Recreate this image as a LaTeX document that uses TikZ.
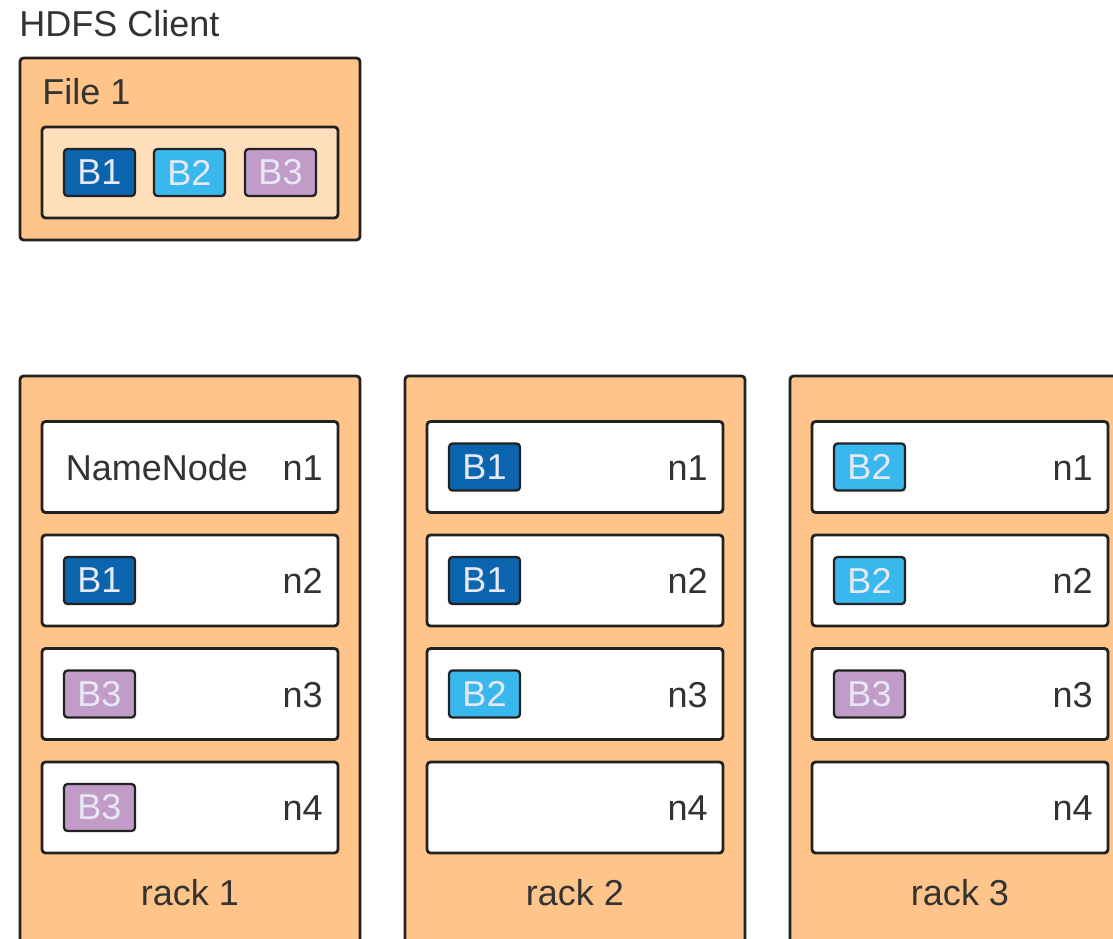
\documentclass[tikz,border=0pt]{standalone}
\usepackage{fontspec}
\setmainfont{Liberation Sans}
\usetikzlibrary{calc,positioning}
\definecolor{rackOrange}{HTML}{FFC489}
\definecolor{fileTan}{HTML}{FFDEBB}
\definecolor{blkDark}{HTML}{0A64AE}
\definecolor{blkLight}{HTML}{38B8EC}
\definecolor{blkPurple}{HTML}{C29CC8}
\definecolor{edgeGray}{HTML}{222222}
\definecolor{txtGray}{HTML}{333333}
\definecolor{blkTxt}{HTML}{E8E8F4}
\tikzset{
	box/.style={draw=edgeGray,line width=1.6pt,rounded corners=2pt,inner sep=0pt,outer sep=0pt},
	rackbox/.style={box,fill=rackOrange,minimum width=6.8cm,minimum height=12cm,anchor=north west},
	hostbox/.style={box,fill=white,minimum width=5.92cm,minimum height=1.82cm,anchor=north west},
	blk/.style={box,line width=1.3pt,minimum width=1.42cm,minimum height=0.94cm,anchor=west,text=blkTxt,font=\fontsize{20.5}{24}\selectfont},
	lbl/.style={inner sep=0pt,text=txtGray,font=\fontsize{20.5}{24}\selectfont},
}

\begin{document}
\begin{tikzpicture}
	\clip (0,0) rectangle (22.26,-18.76);
	\fill[white] (0,0) rectangle (22.26,-18.76);
	% client side
	\node (client) at (0.38,-0.73) [lbl,anchor=base west] {HDFS Client};
	\node (file) at (0.4,-1.16) [box,fill=rackOrange,minimum width=6.8cm,minimum height=3.64cm,anchor=north west]{};
	\node (filename) at ($(file.north west)+(0.44,-0.92)$) [lbl,anchor=base west] {File 1};
	\node (blocks) at ($(file.north west)+(0.44,-1.38)$) [box,fill=fileTan,minimum width=5.92cm,minimum height=1.82cm,anchor=north west]{};
	\node (fB1) at ($(blocks.west)+(0.44,0)$) [blk,fill=blkDark]{B1};
	\node (fB2) at ($(fB1.east)+(0.38,0)$) [blk,fill=blkLight]{B2};
	\node (fB3) at ($(fB2.east)+(0.40,0)$) [blk,fill=blkPurple]{B3};
	
	% racks
	\foreach \r/\x in {1/0.4,2/8.1,3/15.8}{
		\node (rack\r) at (\x,-7.52) [rackbox]{};
		\node (r\r-n1) at ($(rack\r.north west)+(0.44,-0.91)$) [hostbox]{};
		\node (r\r-n2) at ($(r\r-n1.south west)+(0,-0.45)$) [hostbox]{};
		\node (r\r-n3) at ($(r\r-n2.south west)+(0,-0.45)$) [hostbox]{};
		\node (r\r-n4) at ($(r\r-n3.south west)+(0,-0.45)$) [hostbox]{};
		\foreach \n in {1,...,4}
			\node (r\r-l\n) at ($(r\r-n\n.east)+(-0.3,-0.26)$) [lbl,anchor=base east]{n\n};
		\node (rack\r-name) at ($(rack\r.north)+(0,-10.59)$) [lbl,anchor=base]{rack \r};
	}
	
	% blocks on the hosts
	\node (nn) at ($(r1-n1.west)+(0.47,-0.26)$) [lbl,anchor=base west]{NameNode};
	\node (r1-b2) at ($(r1-n2.west)+(0.44,0)$) [blk,fill=blkDark]{B1};
	\node (r1-b3) at ($(r1-n3.west)+(0.44,0)$) [blk,fill=blkPurple]{B3};
	\node (r1-b4) at ($(r1-n4.west)+(0.44,0)$) [blk,fill=blkPurple]{B3};
	\node (r2-b1) at ($(r2-n1.west)+(0.44,0)$) [blk,fill=blkDark]{B1};
	\node (r2-b2) at ($(r2-n2.west)+(0.44,0)$) [blk,fill=blkDark]{B1};
	\node (r2-b3) at ($(r2-n3.west)+(0.44,0)$) [blk,fill=blkLight]{B2};
	\node (r3-b1) at ($(r3-n1.west)+(0.44,0)$) [blk,fill=blkLight]{B2};
	\node (r3-b2) at ($(r3-n2.west)+(0.44,0)$) [blk,fill=blkLight]{B2};
	\node (r3-b3) at ($(r3-n3.west)+(0.44,0)$) [blk,fill=blkPurple]{B3};
\end{tikzpicture}
\end{document}
